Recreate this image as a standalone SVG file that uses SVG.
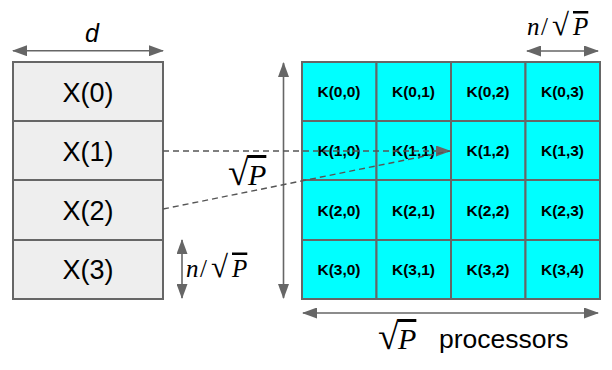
<svg xmlns="http://www.w3.org/2000/svg" width="612" height="370" viewBox="0 0 612 370">
<defs>
<marker id="ah" markerUnits="userSpaceOnUse" markerWidth="15" markerHeight="11" viewBox="0 0 15 11" refX="14" refY="5.5" orient="auto-start-reverse">
<path d="M0,0 L15,5.5 L0,11 Z" fill="#666"/>
</marker>
<style>
.xcell{fill:#eeeeee;stroke:#666;stroke-width:2}
.kcell{fill:#0ff;stroke:#666;stroke-width:2}
.xt{font-family:"Liberation Sans",Arial,sans-serif;font-size:27px;fill:#000;text-anchor:middle}
.kt{font-family:"Liberation Sans",Arial,sans-serif;font-size:15.5px;font-weight:bold;fill:#000;text-anchor:middle}
.dim{stroke:#666;stroke-width:1.6;fill:none}
.dash{stroke:#555;stroke-width:1.4;stroke-dasharray:6 4;fill:none}
.math{font-family:"Liberation Serif","Times New Roman",serif;fill:#000}
.it{font-style:italic}
.ov{text-decoration:overline}
</style>
</defs>
<rect width="612" height="370" fill="#fff"/>

<g id="X0"><rect class="xcell" x="13" y="62" width="150" height="59"/><text class="xt" x="88" y="101.5">X(0)</text></g>
<g id="X1"><rect class="xcell" x="13" y="121" width="150" height="59"/><text class="xt" x="88" y="160.5">X(1)</text></g>
<g id="X2"><rect class="xcell" x="13" y="180" width="150" height="60"/><text class="xt" x="88" y="220">X(2)</text></g>
<g id="X3"><rect class="xcell" x="13" y="240" width="150" height="59"/><text class="xt" x="88" y="279">X(3)</text></g>

<g id="K00"><rect class="kcell" x="302" y="62" width="74.5" height="59"/><text class="kt" x="339" y="97">K(0,0)</text></g>
<g id="K01"><rect class="kcell" x="376.5" y="62" width="74.5" height="59"/><text class="kt" x="413.5" y="97">K(0,1)</text></g>
<g id="K02"><rect class="kcell" x="451" y="62" width="74.5" height="59"/><text class="kt" x="488" y="97">K(0,2)</text></g>
<g id="K03"><rect class="kcell" x="525.5" y="62" width="74.5" height="59"/><text class="kt" x="562.5" y="97">K(0,3)</text></g>

<g id="K10"><rect class="kcell" x="302" y="121" width="74.5" height="59"/><text class="kt" x="339" y="156">K(1,0)</text></g>
<g id="K11"><rect class="kcell" x="376.5" y="121" width="74.5" height="59"/><text class="kt" x="413.5" y="156">K(1,1)</text></g>
<g id="K12"><rect class="kcell" x="451" y="121" width="74.5" height="59"/><text class="kt" x="488" y="156">K(1,2)</text></g>
<g id="K13"><rect class="kcell" x="525.5" y="121" width="74.5" height="59"/><text class="kt" x="562.5" y="156">K(1,3)</text></g>

<g id="K20"><rect class="kcell" x="302" y="180" width="74.5" height="60"/><text class="kt" x="339" y="215.5">K(2,0)</text></g>
<g id="K21"><rect class="kcell" x="376.5" y="180" width="74.5" height="60"/><text class="kt" x="413.5" y="215.5">K(2,1)</text></g>
<g id="K22"><rect class="kcell" x="451" y="180" width="74.5" height="60"/><text class="kt" x="488" y="215.5">K(2,2)</text></g>
<g id="K23"><rect class="kcell" x="525.5" y="180" width="74.5" height="60"/><text class="kt" x="562.5" y="215.5">K(2,3)</text></g>

<g id="K30"><rect class="kcell" x="302" y="240" width="74.5" height="59"/><text class="kt" x="339" y="275">K(3,0)</text></g>
<g id="K31"><rect class="kcell" x="376.5" y="240" width="74.5" height="59"/><text class="kt" x="413.5" y="275">K(3,1)</text></g>
<g id="K32"><rect class="kcell" x="451" y="240" width="74.5" height="59"/><text class="kt" x="488" y="275">K(3,2)</text></g>
<g id="K34"><rect class="kcell" x="525.5" y="240" width="74.5" height="59"/><text class="kt" x="562.5" y="275">K(3,4)</text></g>

<g id="connectors">
<line class="dim" x1="13" y1="50.7" x2="163" y2="50.7" marker-start="url(#ah)" marker-end="url(#ah)"/>
<line class="dim" x1="283.5" y1="63" x2="283.5" y2="298" marker-start="url(#ah)" marker-end="url(#ah)"/>
<line class="dim" x1="182" y1="240" x2="182" y2="298" marker-start="url(#ah)" marker-end="url(#ah)"/>
<line class="dim" x1="527" y1="51" x2="598" y2="51" marker-start="url(#ah)" marker-end="url(#ah)"/>
<line class="dim" x1="303" y1="313" x2="598" y2="313" marker-start="url(#ah)" marker-end="url(#ah)"/>
<line class="dash" x1="163" y1="151" x2="450" y2="151" marker-end="url(#ah)"/>
<line class="dash" x1="163" y1="209" x2="450" y2="151"/>
</g>

<g id="labels">
<text x="92" y="42" font-family="Liberation Sans,Arial,sans-serif" font-size="25" font-style="italic" text-anchor="middle">d</text>
<text class="math" y="185" font-size="30"><tspan x="228" font-size="38">√</tspan><tspan x="248" class="it ov">P</tspan></text>
<text class="math" y="276.5" font-size="25"><tspan x="186" class="it">n</tspan><tspan x="200">/</tspan><tspan x="211" font-size="31">√</tspan><tspan x="232" class="it ov">P</tspan></text>
<text class="math" y="35" font-size="25"><tspan x="527" class="it">n</tspan><tspan x="541">/</tspan><tspan x="552" font-size="31">√</tspan><tspan x="573" class="it ov">P</tspan></text>
<text class="math" y="349" font-size="30"><tspan x="378" font-size="38">√</tspan><tspan x="398" class="it ov">P</tspan></text>
<text x="439" y="348" font-family="Liberation Sans,Arial,sans-serif" font-size="26.5">processors</text>
</g>
</svg>
